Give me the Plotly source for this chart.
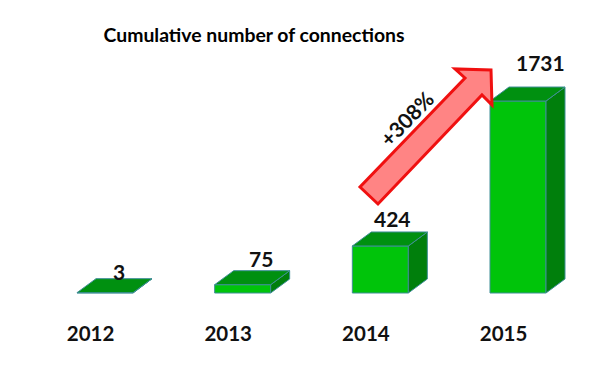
import plotly.graph_objects as go

years = ["2012", "2013", "2014", "2015"]
connections = [3, 75, 424, 1731]
title_text = "Cumulative number of connections"
growth_label = "+308%"

PAGE = 8  # the browser's default body margin
W, H = 598 - 2 * PAGE, 378 - 2 * PAGE
BOTTOM = 51
PX_PER_X = 137.67
X0_PX = 105 - PAGE
Y0_PX = 293 - PAGE
PX_PER_Y = 0.1109
plot_h = H - BOTTOM
BAR_PX = 56
DX_PX, DY_PX = 19, 14

FRONT = "#00c40a"
TOP = "#009010"
SIDE = "#007f0c"
EDGE = "#3f8f96"
FONT = "Lato, Liberation Sans, sans-serif"

xs = list(range(len(years)))
dx = DX_PX / PX_PER_X
dy = DY_PX / PX_PER_Y
half = BAR_PX / PX_PER_X / 2

fig = go.Figure()
fig.add_trace(go.Bar(x=xs, y=connections, width=2 * half,
                     marker=dict(color=FRONT, line=dict(color=EDGE, width=1)),
                     showlegend=False, hoverinfo="x+y"))

for x, v in zip(xs, connections):
    fig.add_trace(go.Scatter(
        x=[x + half, x + half + dx, x + half + dx, x + half, x + half],
        y=[0, dy, v + dy, v, 0], mode="lines", fill="toself", fillcolor=SIDE,
        line=dict(color=EDGE, width=1), showlegend=False, hoverinfo="skip"))
    fig.add_trace(go.Scatter(
        x=[x - half, x - half + dx, x + half + dx, x + half, x - half],
        y=[v, v + dy, v + dy, v, v], mode="lines", fill="toself", fillcolor=TOP,
        line=dict(color=EDGE, width=1), showlegend=False, hoverinfo="skip"))

# value labels sit just above each box, nudged in screen pixels
label_shift_x = [14, 18, 12, 22]
label_shift_y = [21, 26, 27, 39]
for x, v, sx, sy in zip(xs, connections, label_shift_x, label_shift_y):
    fig.add_annotation(x=x, y=v, text=f"<b>{v}</b>", showarrow=False,
                       xshift=sx, yshift=sy,
                       font=dict(family=FONT, size=21, color="#111111"))


def px(x):
    return (x - PAGE) / W


def py(y):
    return 1 - (y - PAGE) / plot_h


arrow_px = [(360, 187), (378, 204), (482, 95), (492, 105),
            (491, 70), (455, 69), (465, 78)]
path = "M " + " L ".join(f"{px(a):.4f},{py(b):.4f}" for a, b in arrow_px) + " Z"
fig.add_shape(type="path", path=path, xref="paper", yref="paper",
              fillcolor="#ff8484", line=dict(color="#f01010", width=3), layer="above")

fig.add_annotation(xref="paper", yref="paper", x=px(406), y=py(118),
                   xanchor="center", yanchor="middle",
                   text=f"<b>{growth_label}</b>", textangle=-46, showarrow=False,
                   font=dict(family=FONT, size=21, color="#111111"))

fig.update_layout(
    width=W, height=H, margin=dict(l=0, r=0, t=0, b=BOTTOM, autoexpand=False),
    paper_bgcolor="white", plot_bgcolor="white", showlegend=False,
    title=dict(text=f"<b>{title_text}</b>", x=(254 - PAGE) / W, xanchor="center",
               y=1 - (35 - PAGE) / H, yanchor="middle",
               font=dict(family=FONT, size=19.4, color="black")),
    xaxis=dict(range=[-X0_PX / PX_PER_X, (W - X0_PX) / PX_PER_X],
               tickmode="array", tickvals=[x - 0.105 for x in xs],
               ticktext=[f"<b>{y}</b>" for y in years],
               showgrid=False, zeroline=False, showline=False, ticks="",
               tickfont=dict(family=FONT, size=20.5, color="#111111")),
    yaxis=dict(range=[-(plot_h - Y0_PX) / PX_PER_Y, Y0_PX / PX_PER_Y],
               visible=False, showgrid=False, zeroline=False),
)
fig.write_html("out.html", config=dict(displayModeBar=False))
